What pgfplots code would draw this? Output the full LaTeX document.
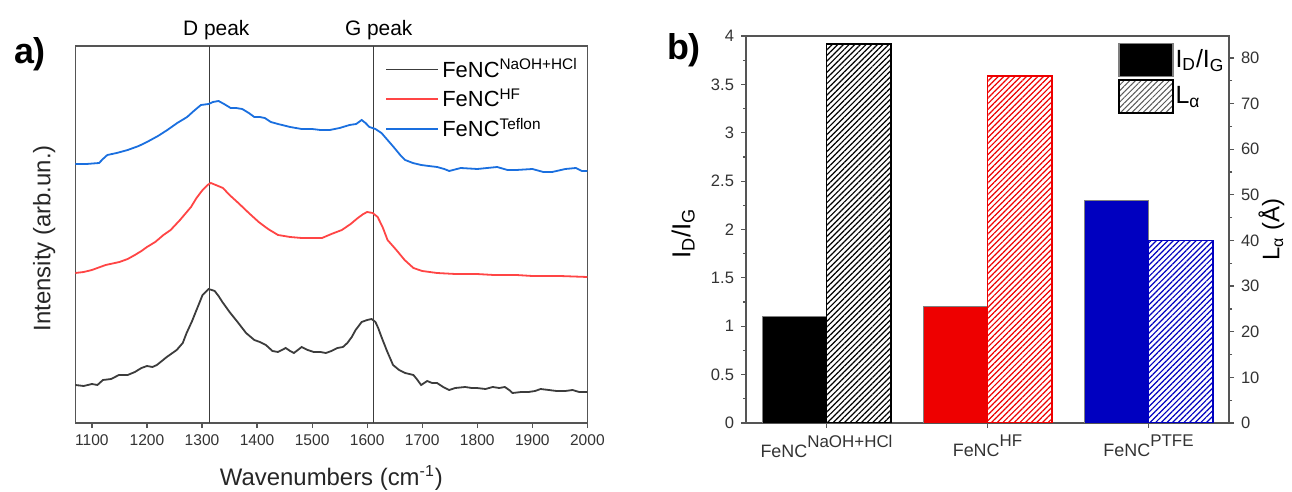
\documentclass[border=0pt]{standalone}
\usepackage{fontspec}
\setmainfont{Liberation Sans}
\usepackage{pgfplots}
\pgfplotsset{compat=1.18}
\usetikzlibrary{patterns.meta}
\definecolor{axisgray}{HTML}{555555}
\definecolor{labgray}{HTML}{333333}
\definecolor{cblack}{HTML}{3C3C3C}
\definecolor{cred}{HTML}{FF4545}
\definecolor{cblue}{HTML}{1A6FDF}
\definecolor{bred}{HTML}{EE0000}
\definecolor{bblue}{HTML}{0000C0}
\newcommand{\bsup}[1]{\raisebox{5bp}{\fontsize{8.5}{9}\selectfont #1}}

\begin{document}
\begin{tikzpicture}
\useasboundingbox (0,0) rectangle (646bp,246bp);

% ---- a) Raman spectra
\begin{axis}[
  at={(37.7bp,34.5bp)},anchor=south west,scale only axis,
  width=256bp,height=188.5bp,clip=false,
  xmin=1070,xmax=2000,ymin=0,ymax=377,
  xtick={1100,1200,...,2000},ytick=\empty,xtick pos=lower,tick align=outside,
  major tick length=2.5bp,
  axis line style={draw=axisgray,line width=0.75bp},
  every tick/.style={axisgray,line width=0.6bp},
  tick label style={font=\fontsize{7.8}{9}\selectfont,text=labgray},
  /pgf/number format/assume math mode=true,
  /pgf/number format/1000 sep={},
  xlabel={Wavenumbers (cm\textsuperscript{-1})},
  ylabel={Intensity (arb.un.)},
  label style={font=\fontsize{12}{14}\selectfont,text=black!85},
  xlabel style={at={(axis description cs:0.5,-0.146)},anchor=center},
  ylabel style={at={(axis description cs:-0.061,0.49)},anchor=center},
  legend style={at={(axis description cs:0.605,0.976)},anchor=north west,
    draw=none,fill=none,font=\fontsize{11}{12}\selectfont,row sep=1bp,
    inner sep=0pt,nodes={inner sep=1.5bp}},
  legend cell align=left,
  legend image code/.code={\draw[#1] (0bp,0bp) -- (26bp,0bp);},
]
\addplot[cblack,line width=0.7bp,forget plot] coordinates {(1314,0) (1314,377)};
\addplot[cblack,line width=0.7bp,forget plot] coordinates {(1612,0) (1612,377)};

\addplot[cblack,line width=0.9bp] table {
1070 38
1085 37
1100 39
1110 38
1120 43
1135 44
1149 48
1165 48
1178 51
1190 55
1200 57
1210 56
1218 58
1236 66
1254 73
1265 80
1272 90
1282 102
1290 113
1301 128
1312 134
1323 132
1330 127
1337 121
1350 111
1366 100
1380 90
1395 83
1405 81
1416 78
1428 72
1438 71
1452 75
1460 72
1467 70
1481 76
1492 73
1503 71
1515 71
1525 70
1535 72
1546 75
1556 76
1564 80
1572 86
1579 93
1590 101
1600 103
1608 104
1615 101
1620 95
1626 86
1636 72
1647 58
1658 53
1669 50
1684 48
1690 44
1698 38
1709 42
1718 40
1727 40
1738 36
1749 33
1760 35
1778 36
1790 35
1799 35
1815 34
1828 36
1840 35
1850 36
1858 33
1864 30
1880 31
1893 31
1905 32
1915 34
1930 33
1944 32
1960 32
1973 33
1985 31
2000 31
};
\addlegendentry{FeNC\textsuperscript{NaOH+HCl}}

\addplot[cred,line width=0.9bp] table {
1070 150
1085 151
1100 153
1125 158
1150 161
1165 164
1178 168
1190 172
1200 176
1215 181
1230 188
1243 193
1260 203
1280 216
1290 225
1301 233
1310 238
1316 240
1325 238
1338 235
1350 228
1366 220
1385 210
1403 201
1420 194
1438 188
1460 186
1481 185
1500 185
1518 185
1535 189
1554 193
1570 199
1583 205
1593 209
1600 211
1610 210
1619 206
1628 196
1637 183
1653 173
1668 163
1684 155
1700 152
1727 150
1760 149
1799 149
1830 148
1871 148
1900 147
1950 147
2000 146
};
\addlegendentry{FeNC\textsuperscript{HF}}

\addplot[cblue,line width=0.9bp] table {
1070 259
1090 259
1113 260
1120 264
1128 268
1145 270
1165 273
1185 277
1200 281
1220 287
1237 293
1255 300
1273 306
1285 312
1298 318
1312 319
1320 321
1330 322
1340 319
1352 315
1362 315
1373 314
1385 310
1395 306
1405 306
1414 305
1425 301
1438 299
1460 296
1481 294
1500 294
1515 293
1532 293
1550 295
1568 298
1580 299
1590 303
1597 300
1604 296
1615 294
1626 290
1637 283
1648 276
1660 268
1669 263
1683 260
1698 258
1712 257
1727 256
1740 254
1749 252
1770 255
1800 254
1836 256
1855 253
1871 253
1900 254
1920 251
1936 251
1960 254
1979 255
1990 252
2000 252
};
\addlegendentry{FeNC\textsuperscript{Teflon}}

\node[font=\fontsize{10.5}{12}\selectfont,anchor=base,yshift=5bp] at (axis cs:1326,377) {D peak};
\node[font=\fontsize{10.5}{12}\selectfont,anchor=base,yshift=5bp] at (axis cs:1621,377) {G peak};
\end{axis}

% ---- b) I_D/I_G and L_alpha
\begin{axis}[
  at={(373bp,34.5bp)},anchor=south west,scale only axis,
  width=241.5bp,height=193.5bp,
  xmin=-0.5,xmax=2.5,ymin=0,ymax=4,
  xtick={0,1,2},
  xticklabels={FeNC\bsup{NaOH+HCl},FeNC\bsup{HF},FeNC\bsup{PTFE}},
  ytick={0,0.5,1,1.5,2,2.5,3,3.5,4},minor y tick num=1,
  ytick pos=left,xtick pos=lower,tick align=outside,
  major tick length=2.5bp,minor tick length=1.5bp,
  axis line style={draw=axisgray,line width=0.9bp},
  every tick/.style={axisgray,line width=0.6bp},
  yticklabel style={font=\fontsize{8.3}{9}\selectfont,text=labgray},
  xticklabel style={font=\fontsize{9}{10}\selectfont,text=labgray},
  /pgf/number format/assume math mode=true,
  ylabel={I\textsubscript{D}/I\textsubscript{G}},
  ylabel style={font=\fontsize{13}{14}\selectfont,at={(axis description cs:-0.13,0.49)},anchor=center},
]
\addplot[ybar,bar width=0.4,bar shift=-0.2,fill=black,draw=gray,line width=0.5bp] coordinates {(0,1.1)};
\addplot[ybar,bar width=0.4,bar shift=-0.2,fill=bred,draw=gray,line width=0.5bp] coordinates {(1,1.2)};
\addplot[ybar,bar width=0.4,bar shift=-0.2,fill=bblue,draw=gray,line width=0.5bp] coordinates {(2,2.3)};
\end{axis}

\begin{axis}[
  at={(373bp,34.5bp)},anchor=south west,scale only axis,
  width=241.5bp,height=193.5bp,
  xmin=-0.5,xmax=2.5,ymin=0,ymax=84.8,
  axis y line*=right,axis x line=none,
  ytick={0,10,...,80},minor y tick num=1,tick align=outside,
  major tick length=2.5bp,minor tick length=1.5bp,
  axis line style={draw=axisgray,line width=0.9bp},
  every tick/.style={axisgray,line width=0.6bp},
  yticklabel style={font=\fontsize{8.3}{9}\selectfont,text=labgray},
  /pgf/number format/assume math mode=true,
  ylabel={L\textsubscript{α} (Å)},
  ylabel style={font=\fontsize{12}{13}\selectfont,at={(axis description cs:1.088,0.5)},anchor=center},
  legend style={at={(axis description cs:0.77,0.984)},anchor=north west,
    draw=none,fill=none,font=\fontsize{12.5}{13}\selectfont,row sep=1.5bp,
    inner sep=0pt,nodes={inner sep=1bp}},
  legend cell align=left,
  legend image code/.code={\draw[#1] (0bp,-8.25bp) rectangle (27bp,8.25bp);},
]
\addlegendimage{fill=black,draw=gray,line width=0.6bp}
\addlegendentry{I\textsubscript{D}/I\textsubscript{G}}
\addlegendimage{draw=black,line width=1.2bp,pattern={Lines[angle=45,distance=2bp,line width=0.5bp]},pattern color=gray!70!black}
\addlegendentry{L\textsubscript{α}}

\addplot[ybar,bar width=0.4,bar shift=0.2,draw=black,line width=0.8bp,forget plot,
  pattern={Lines[angle=45,distance=2bp,line width=0.6bp]},pattern color=black] coordinates {(0,83.1)};
\addplot[ybar,bar width=0.4,bar shift=0.2,draw=bred,line width=0.8bp,forget plot,
  pattern={Lines[angle=45,distance=2bp,line width=0.6bp]},pattern color=bred] coordinates {(1,76.0)};
\addplot[ybar,bar width=0.4,bar shift=0.2,draw=bblue,line width=0.8bp,forget plot,
  pattern={Lines[angle=45,distance=2bp,line width=0.6bp]},pattern color=bblue] coordinates {(2,40.0)};
\end{axis}

\node[font=\bfseries\fontsize{18}{20}\selectfont] at (15bp,219bp) {a)};
\node[font=\bfseries\fontsize{18}{20}\selectfont] at (342bp,221bp) {b)};
\end{tikzpicture}
\end{document}
